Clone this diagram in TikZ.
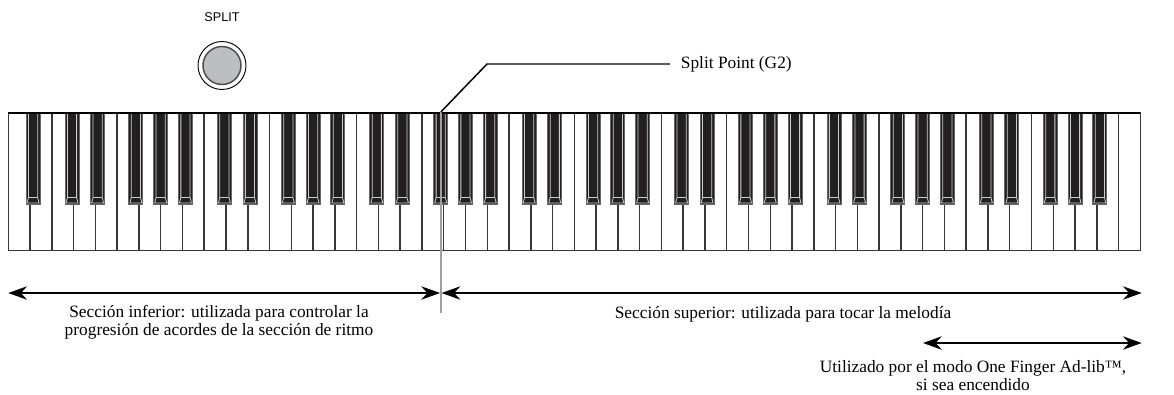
\documentclass[tikz,border=0pt]{standalone}
\usepackage{fontspec}
\setmainfont{Liberation Serif}
\newfontfamily\panelfont{Liberation Sans}
\usetikzlibrary{arrows.meta}
\definecolor{keyblack}{HTML}{231F20}
\definecolor{capgray}{HTML}{BCBEC0}
\definecolor{splitgray}{HTML}{9D9FA2}
\tikzset{
  keyline/.style={draw=black!78, line width=1.1pt},
  dimarrow/.style={{Stealth[length=14pt,width=10pt]}-{Stealth[length=14pt,width=10pt]}, line width=1.6pt},
  caption/.style={font=\fontsize{13}{13.5}\selectfont, align=center, inner sep=0pt},
}
\begin{document}
\begin{tikzpicture}[x=0.75pt, y=-0.75pt]
  \useasboundingbox (0,0) rectangle (1174,394);

  % boton SPLIT
  \node[font=\panelfont\fontsize{9.5}{11}\selectfont, inner sep=0pt] (splitname) at (222,17) {SPLIT};
  \node[circle, draw=black, line width=0.7pt, fill=white, minimum size=36pt, inner sep=0pt] (btn) at (222,65.5) {};
  \node[circle, draw=black!70, line width=1.1pt, fill=capgray, minimum size=28.5pt, inner sep=0pt] (btncap) at (btn) {};

  % teclas blancas (52)
  \draw[keyline] (8.3,113) rectangle (1140.3,250.7);
  \foreach \i in {1,...,51}
    \draw[keyline] (8.3+\i*21.77,113) -- (8.3+\i*21.77,250.7);

  % teclas negras
  \foreach \i in {0,...,50}{
    \pgfmathtruncatemacro\nt{mod(\i+5,7)}
    \ifcase\nt \def\off{-1.6}\or \def\off{2.2}\or \def\off{0}\or \def\off{-3}\or \def\off{0}\or \def\off{3}\or \def\off{0}\fi
    \ifnum\nt=2\relax\else\ifnum\nt=6\relax\else
      \pgfmathsetmacro\bx{8.3+(\i+1)*21.77+\off}
      \fill[keyblack] (\bx-7,113) rectangle (\bx+7,204);
      \draw[black!60, line width=0.7pt] (\bx-7,113) rectangle (\bx+7,204);
      \draw[black!20, line width=0.6pt] (\bx-4.6,113) -- (\bx-4.6,197.5) -- (\bx+4.6,197.5) -- (\bx+4.6,113)
        (\bx-4.6,197.5) -- (\bx-6,203) -- (\bx+6,203) -- (\bx+4.6,197.5);
    \fi\fi
  }
  \draw[line width=1.6pt] (8.3,113) -- (1140.3,113);

  % punto de division
  \coordinate (splittop) at (440.8,112);
  \coordinate (splitbot) at (440.8,313);
  \coordinate (bend) at (487,64);
  \node[caption, anchor=west, inner xsep=8pt] (splitlbl) at (670,64) {Split Point (G2)};
  \draw[splitgray, line width=1.5pt] (splittop) -- (splitbot);
  \draw[line width=1.1pt] (splittop) -- (bend) -- (splitlbl.west);

  % secciones
  \coordinate (lowl) at (8.3,293);
  \coordinate (lowr) at (440,293);
  \coordinate (upl) at (441.6,293);
  \coordinate (upr) at (1141.7,293);
  \coordinate (adl) at (923,343);
  \coordinate (adr) at (1141.7,343);
  \draw[dimarrow] (lowl) -- (lowr);
  \draw[dimarrow] (upl) -- (upr);
  \draw[dimarrow] (adl) -- (adr);

  \node[caption] (lowtxt) at (219,322) {Sección inferior: utilizada para controlar la\\progresión de acordes de la sección de ritmo};
  \node[caption] (uptxt) at (783,314) {Sección superior: utilizada para tocar la melodía};
  \node[caption] (adtxt) at (973,376) {Utilizado por el modo One Finger Ad-lib™,\\si sea encendido};

\end{tikzpicture}
\end{document}
